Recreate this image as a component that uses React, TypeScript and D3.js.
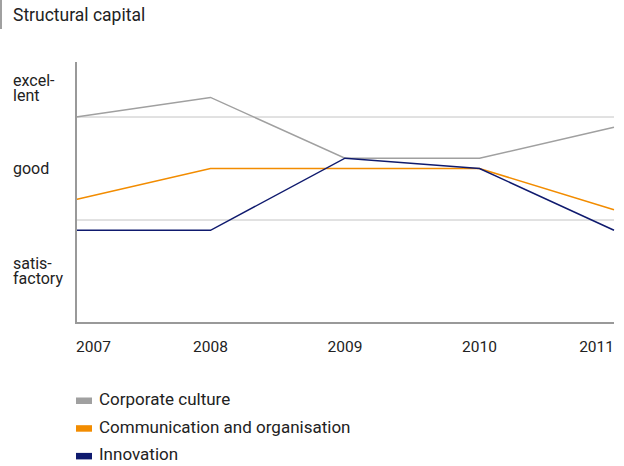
import React from "react";
import * as d3 from "d3";

const years = ["2007", "2008", "2009", "2010", "2011"];
const corporateCulture = [2.0, 2.19, 1.6, 1.6, 1.9];
const communication = [1.2, 1.5, 1.5, 1.5, 1.1];
const innovation = [0.9, 0.9, 1.6, 1.5, 0.9];
const gridValues = [1, 2];
const levelLabels = [
  { lines: ["excel-", "lent"], value: 2.28 },
  { lines: ["good"], value: 1.5 },
  { lines: ["satis-", "factory"], value: 0.5 },
];
const seriesNames = ["Corporate culture", "Communication and organisation", "Innovation"];
const seriesColors = ["#a0a0a0", "#f28c00", "#0f1a6e"];

const W = 624;
const H = 466;
const FONT = "Roboto, 'DejaVu Sans', sans-serif";

export default function App() {
  const x = d3.scalePoint<string>().domain(years).range([76, 614]);
  const y = d3.scaleLinear().domain([0, 3]).range([323, 14]);
  const line = d3
    .line<number>()
    .x((_, i) => x(years[i]) as number)
    .y((d) => y(d));
  const series = [corporateCulture, communication, innovation];

  return (
    <svg
      width={W}
      height={H}
      style={{ position: "absolute", left: 0, top: 0 }}
      fontFamily={FONT}
    >
      <rect x={0} y={0} width={2} height={29} fill="#a0a0a0" />
      <text x={13} y={21} fontSize={17.5} fill="#222">
        Structural capital
      </text>

      {gridValues.map((v) => (
        <line key={v} x1={76} x2={614} y1={y(v)} y2={y(v)} stroke="#c4c4c4" strokeWidth={1} />
      ))}

      {levelLabels.map((l, i) => {
        const n = l.lines.length;
        const cy = y(l.value);
        return (
          <text key={i} x={13} fontSize={16} fill="#222">
            {l.lines.map((t, j) => (
              <tspan key={j} x={13} y={cy + 5 + (j - (n - 1) / 2) * 15}>
                {t}
              </tspan>
            ))}
          </text>
        );
      })}

      {series.map((s, i) => (
        <path
          key={i}
          d={line(s) as string}
          fill="none"
          stroke={seriesColors[i]}
          strokeWidth={1.5}
          strokeLinejoin="miter"
        />
      ))}

      <line x1={76} x2={76} y1={62} y2={324} stroke="#999" strokeWidth={2} />
      <line x1={75} x2={614} y1={323} y2={323} stroke="#999" strokeWidth={2} />

      {years.map((yr, i) => (
        <text
          key={yr}
          x={x(yr)}
          y={352}
          fontSize={15.5}
          fill="#222"
          textAnchor={i === 0 ? "start" : i === years.length - 1 ? "end" : "middle"}
        >
          {yr}
        </text>
      ))}

      {seriesNames.map((name, i) => (
        <g key={name} transform={`translate(76, ${400.5 + i * 27.7})`}>
          <rect x={0} y={-3} width={16} height={6.5} fill={seriesColors[i]} />
          <text x={23} y={4.5} fontSize={17} fill="#222">
            {name}
          </text>
        </g>
      ))}
    </svg>
  );
}
